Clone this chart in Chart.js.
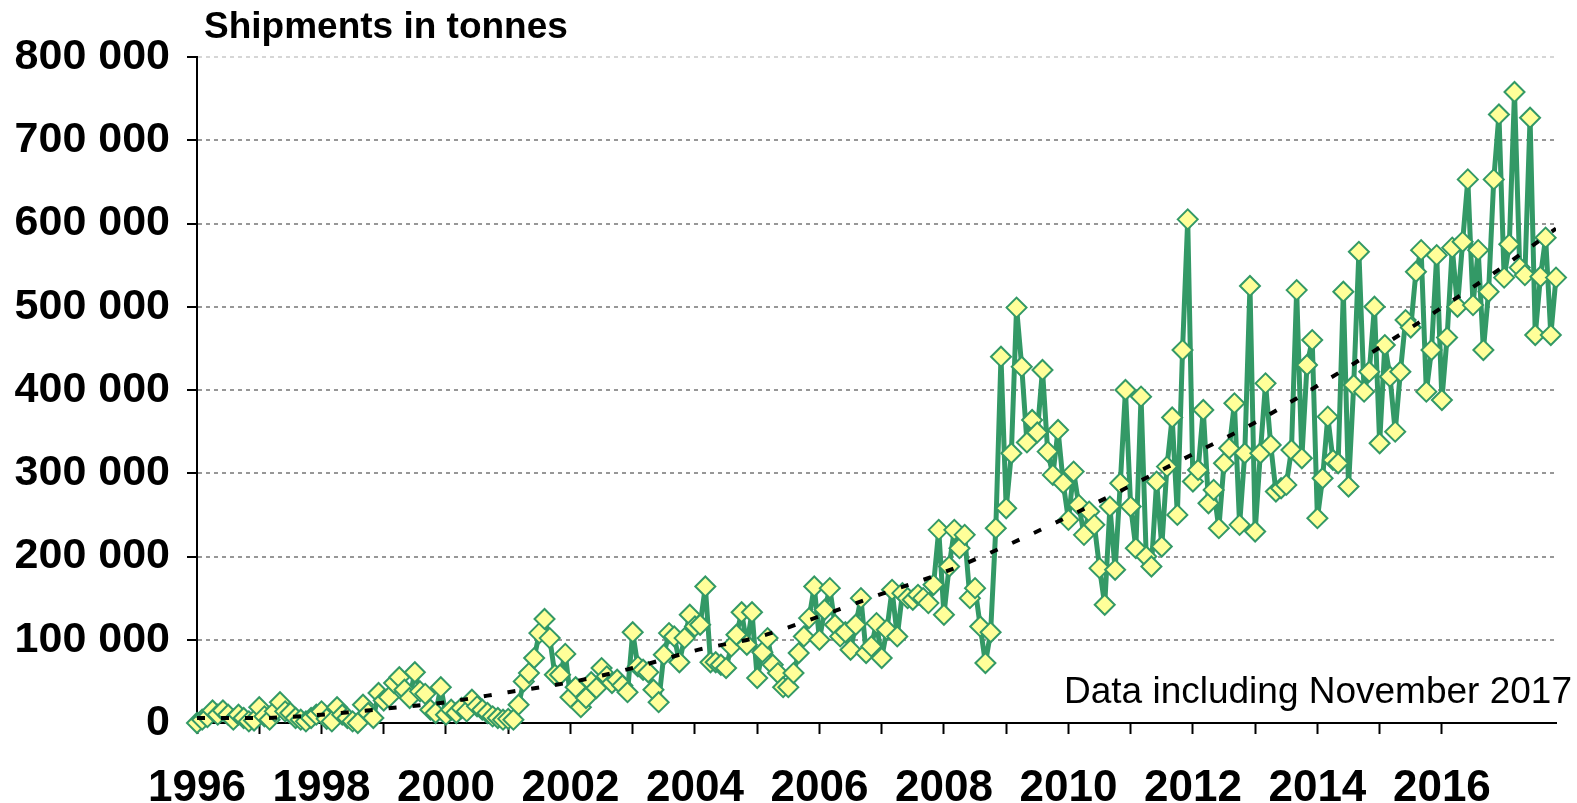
<!DOCTYPE html>
<html>
<head>
<meta charset="utf-8">
<title>Shipments in tonnes</title>
<script src="https://cdn.jsdelivr.net/npm/chart.js@4.4.1/dist/chart.umd.min.js"></script>
<style>
  html, body { margin: 0; padding: 0; background: #fff; }
  #chart { display: block; }
</style>
</head>
<body>
<canvas id="chart" width="1577" height="803"></canvas>
<script>
// Monthly shipments (tonnes), January 1996 .. November 2017
const firstYear = 1996;
const shipments = [
    // 1996
    0, 4000, 7000, 15000, 10000, 15000, 10000, 4000, 10000, 6000, 2000, 3000,
    // 1997
    19000, 8000, 4000, 14000, 25000, 14000, 12000, 6000, 4000, 2000, 6000, 10000,
    // 1998
    14000, 5000, 2000, 19000, 10000, 6000, 2000, 0, 22000, 12000, 6000, 36000,
    // 1999
    27000, 31000, 48000, 55000, 40000, 30000, 61000, 38000, 35000, 16000, 12000, 43000,
    // 2000
    10000, 16000, 12000, 18000, 14000, 28000, 20000, 16000, 12000, 8000, 6000, 4000,
    // 2001
    5000, 4000, 22000, 50000, 60000, 78000, 108000, 125000, 102000, 58000, 58000, 83000,
    // 2002
    31000, 43000, 19000, 30000, 49000, 42000, 66000, 56000, 48000, 52000, 45000, 37000,
    // 2003
    109000, 68000, 64000, 61000, 40000, 25000, 82000, 108000, 104000, 73000, 102000, 130000,
    // 2004
    116000, 118000, 164000, 73000, 73000, 70000, 66000, 92000, 106000, 133000, 94000, 133000,
    // 2005
    54000, 85000, 102000, 70000, 60000, 43000, 43000, 60000, 84000, 104000, 126000, 164000,
    // 2006
    100000, 136000, 162000, 118000, 104000, 109000, 88000, 118000, 150000, 84000, 92000, 120000,
    // 2007
    78000, 112000, 160000, 104000, 156000, 150000, 148000, 154000, 150000, 144000, 166000, 232000,
    // 2008
    130000, 188000, 232000, 210000, 226000, 150000, 162000, 116000, 72000, 109000, 234000, 440000,
    // 2009
    258000, 324000, 499000, 428000, 337000, 364000, 349000, 424000, 326000, 298000, 352000, 288000,
    // 2010
    244000, 302000, 262000, 226000, 254000, 238000, 186000, 142000, 260000, 184000, 288000, 400000,
    // 2011
    260000, 210000, 392000, 200000, 188000, 290000, 212000, 308000, 367000, 250000, 448000, 605000,
    // 2012
    290000, 304000, 376000, 264000, 280000, 234000, 312000, 330000, 384000, 238000, 324000, 525000,
    // 2013
    230000, 324000, 408000, 334000, 278000, 282000, 286000, 328000, 520000, 318000, 430000, 460000,
    // 2014
    246000, 294000, 368000, 316000, 312000, 518000, 284000, 406000, 566000, 398000, 422000, 500000,
    // 2015
    336000, 454000, 416000, 350000, 422000, 484000, 475000, 542000, 568000, 398000, 448000, 562000,
    // 2016
    388000, 463000, 571000, 500000, 578000, 653000, 502000, 568000, 448000, 518000, 653000, 731000,
    // 2017 (to November)
    535000, 575000, 758000, 547000, 538000, 727000, 466000, 536000, 583000, 466000, 535000
];

// Trend line
const trendYears = [1996, 1997, 1998, 1999, 2000, 2001, 2002, 2003, 2004, 2005, 2006,
    2007, 2008, 2009, 2010, 2011, 2012, 2013, 2014, 2015, 2016, 2017, 2017.833];
const trendValues = [6000, 6000, 10000, 17000, 25000, 37000, 49000, 66000, 87000, 103000, 128000,
    155000, 181000, 213000, 248000, 285000, 323000, 361000, 405000, 451000, 499000, 549000, 594000];

const yMax = 800000;
const yStep = 100000;
const chartTitle = 'Shipments in tonnes';
const footNote = 'Data including November 2017';

const FONT = '"Liberation Sans", Arial, Helvetica, sans-serif';
const GREEN = '#339966';

// Local helper: 800000 -> "800 000"
function spaced(n) {
    return String(n).replace(/\B(?=(\d{3})+(?!\d))/g, ' ');
}

const points = shipments.map((v, i) => ({ x: firstYear + i / 12, y: v }));
const trend = trendYears.map((yr, i) => ({ x: yr, y: trendValues[i] }));
const lastX = firstYear + (shipments.length - 1) / 12;

// Title and note drawn on the canvas
const textPlugin = {
    id: 'texts',
    afterDraw(chart) {
        const { ctx, chartArea } = chart;
        ctx.save();
        ctx.fillStyle = '#000';
        ctx.textBaseline = 'alphabetic';
        ctx.font = 'bold 37px ' + FONT;
        ctx.textAlign = 'left';
        ctx.fillText(chartTitle, chartArea.left + 7, 38);
        ctx.font = '37px ' + FONT;
        ctx.textAlign = 'right';
        ctx.fillText(footNote, chart.width - 5, chartArea.bottom - 20);
        ctx.restore();
    }
};

new Chart(document.getElementById('chart').getContext('2d'), {
    type: 'line',
    data: {
        datasets: [
            {
                label: 'Trend',
                data: trend,
                borderColor: '#000',
                borderWidth: 4,
                borderDash: [8, 16],
                pointRadius: 0,
                cubicInterpolationMode: 'monotone',
                fill: false,
                order: 0
            },
            {
                label: 'Shipments',
                data: points,
                borderColor: GREEN,
                borderWidth: 5,
                borderJoinStyle: 'round',
                tension: 0,
                pointStyle: 'rectRot',
                pointRadius: 10,
                pointBorderWidth: 2,
                pointBackgroundColor: '#FFFF99',
                pointBorderColor: GREEN,
                fill: false,
                clip: false,
                order: 1
            }
        ]
    },
    options: {
        responsive: false,
        animation: false,
        devicePixelRatio: 1,
        layout: { padding: { top: 57, right: 21, left: 0, bottom: 0 } },
        plugins: {
            legend: { display: false },
            tooltip: { enabled: false }
        },
        scales: {
            x: {
                type: 'linear',
                min: firstYear,
                max: lastX,
                afterBuildTicks: (s) => { s.ticks = s.ticks.filter(t => Number.isInteger(t.value)); },
                afterFit: (s) => { s.height = 80; },
                ticks: {
                    stepSize: 1,
                    autoSkip: false,
                    maxRotation: 0,
                    padding: 28,
                    color: '#000',
                    font: { family: FONT, size: 44, weight: 'bold' },
                    callback: (v) => (v % 2 === 0 ? String(v) : '')
                },
                grid: {
                    drawOnChartArea: false,
                    drawTicks: true,
                    tickLength: 11,
                    tickWidth: 2,
                    tickColor: '#000'
                },
                border: { display: true, color: '#000', width: 2 }
            },
            y: {
                min: 0,
                max: yMax,
                afterFit: (s) => { s.width = 197; },
                ticks: {
                    stepSize: yStep,
                    padding: 17,
                    color: '#000',
                    font: { family: FONT, size: 43, weight: 'bold' },
                    callback: (v) => spaced(v)
                },
                grid: {
                    color: (c) => (c.tick.value === 0 ? 'rgba(0,0,0,0)'
                        : (c.tick.value === yMax ? '#d6d6d6' : '#979797')),
                    lineWidth: 2,
                    tickLength: 10,
                    tickWidth: 2,
                    tickColor: '#000'
                },
                border: { display: true, color: '#000', width: 2, dash: [4, 4] }
            }
        }
    },
    plugins: [textPlugin]
});
</script>
</body>
</html>
